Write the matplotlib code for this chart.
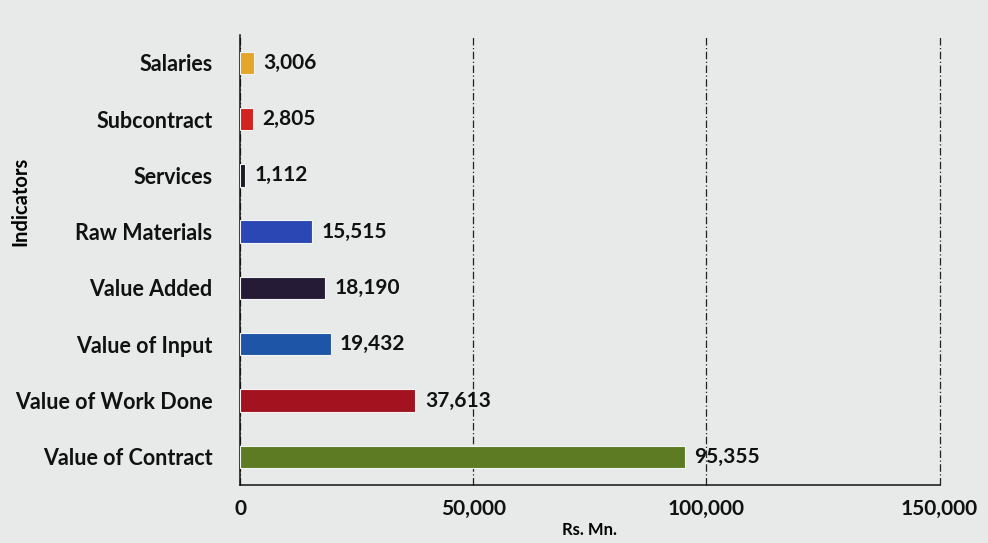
import matplotlib.pyplot as plt
from matplotlib.ticker import FuncFormatter

# Indicators, top to bottom as in the chart
indicators = ["Salaries", "Subcontract", "Services", "Raw Materials",
              "Value Added", "Value of Input", "Value of Work Done",
              "Value of Contract"]
values = [3006, 2805, 1112, 15515, 18190, 19432, 37613, 95355]
bar_colors = ["#E3A52A", "#D1231F", "#1B1B28", "#2B47B3",
              "#251B36", "#1F55A6", "#A3121F", "#5C7B22"]
x_ticks = [0, 50000, 100000, 150000]

plt.rcParams['font.family'] = ['Lato', 'DejaVu Sans']
bg = "#E7EAE9"

fig = plt.figure(figsize=(9.88, 5.43), dpi=100, facecolor=bg)
ax = fig.add_axes([0.243, 0.107, 0.708, 0.829], facecolor=bg)

# bottom category first on the y axis
ypos = list(range(len(indicators)))[::-1]
ax.barh(ypos, values, height=0.4, color=bar_colors,
        edgecolor="#F4F4F4", linewidth=0.8, zorder=3)

for y, v in zip(ypos, values):
    ax.text(v + 2000, y, f"{v:,}", va="center", ha="left",
            fontsize=15, fontweight="bold", color="#111111", zorder=4)

ax.set_xlim(0, 150000)
ax.set_ylim(-0.5, len(indicators) - 0.5)
ax.set_xticks(x_ticks)
ax.xaxis.set_major_formatter(FuncFormatter(lambda v, p: f"{int(v):,}"))
ax.set_yticks(ypos)
ax.set_yticklabels(indicators)

ax.tick_params(axis="both", length=0, colors="#111111")
ax.tick_params(axis="y", labelsize=15.5, pad=20)
ax.tick_params(axis="x", labelsize=15, pad=10)
for lbl in ax.get_xticklabels() + ax.get_yticklabels():
    lbl.set_fontweight("bold")

ax.grid(axis="x", linestyle=(0, (6, 2, 1, 2)), color="#222222",
        linewidth=0.9, zorder=1)
ax.grid(axis="y", visible=False)
for gl in ax.get_xgridlines():
    gl.set_clip_on(False)

ax.spines["top"].set_visible(False)
ax.spines["right"].set_visible(False)
ax.spines["left"].set_color("#111111")
ax.spines["bottom"].set_color("#111111")
ax.spines["left"].set_linewidth(1.1)
ax.spines["bottom"].set_linewidth(1.1)

ax.set_xlabel("Rs. Mn.", fontsize=12, fontweight="bold", labelpad=2)
ax.set_ylabel("Indicators", fontsize=14.5, fontweight="bold")
ax.yaxis.set_label_coords(-0.30, 0.63)

fig.savefig("out.png", dpi=100, facecolor=bg)
